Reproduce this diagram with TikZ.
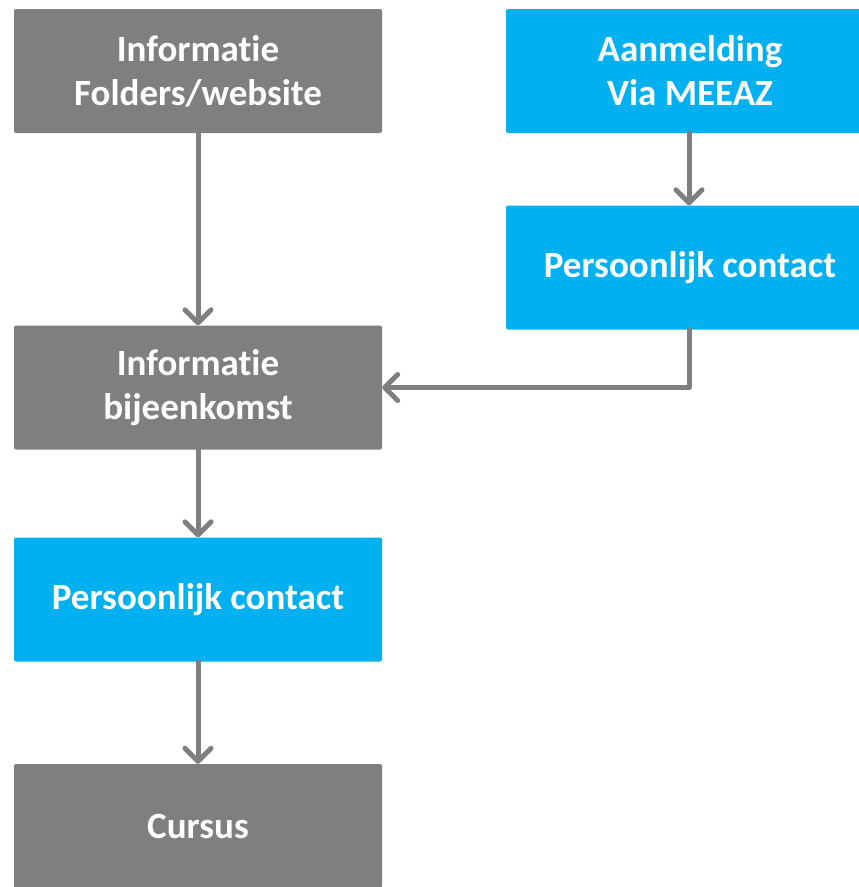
\documentclass[tikz,border=0pt]{standalone}
\usepackage{fontspec}
\setmainfont{Carlito}[Ligatures=NoCommon]
\usetikzlibrary{arrows.meta}
\definecolor{boxgray}{HTML}{7F7F7F}
\definecolor{boxblue}{HTML}{00B0F0}
\definecolor{linegray}{HTML}{7F7F7F}
\begin{document}
\begin{tikzpicture}[x=1pt,y=-1pt,
  box/.style={rectangle, rounded corners=2pt, minimum width=368pt, minimum height=124pt,
    inner sep=0pt, text=white, align=center,
    font=\fontsize{37}{44}\selectfont\bfseries},
  graybox/.style={box, fill=boxgray},
  bluebox/.style={box, fill=boxblue},
  conn/.style={draw=linegray, line width=5pt, line cap=round, line join=round,
    -{Straight Barb[length=13pt,width=26pt,line cap=round,line join=round]}}]
\useasboundingbox (0,0) rectangle (859,887);
\clip (0,0) rectangle (859,887);
\fill[white] (0,0) rectangle (859,887);
\node[graybox] (info) at (198,71) {Informatie\\Folders/website};
\node[bluebox] (aanm) at (690,71) {Aanmelding\\Via MEEAZ};
\node[bluebox] (pc1) at (690,267.5) {Persoonlijk contact};
\node[graybox] (bij) at (198,387.5) {Informatie\\bijeenkomst};
\node[bluebox] (pc2) at (198,599.5) {Persoonlijk contact};
\node[graybox] (cur) at (198,826) {Cursus};
\draw[conn] (info.south) -- (bij.north);
\draw[conn] ([xshift=-1pt]aanm.south) -- ([xshift=-1pt]pc1.north);
\draw[conn] ([xshift=-1pt]pc1.south) |- (bij.east);
\draw[conn] (bij.south) -- (pc2.north);
\draw[conn] (pc2.south) -- (cur.north);
\end{tikzpicture}
\end{document}
